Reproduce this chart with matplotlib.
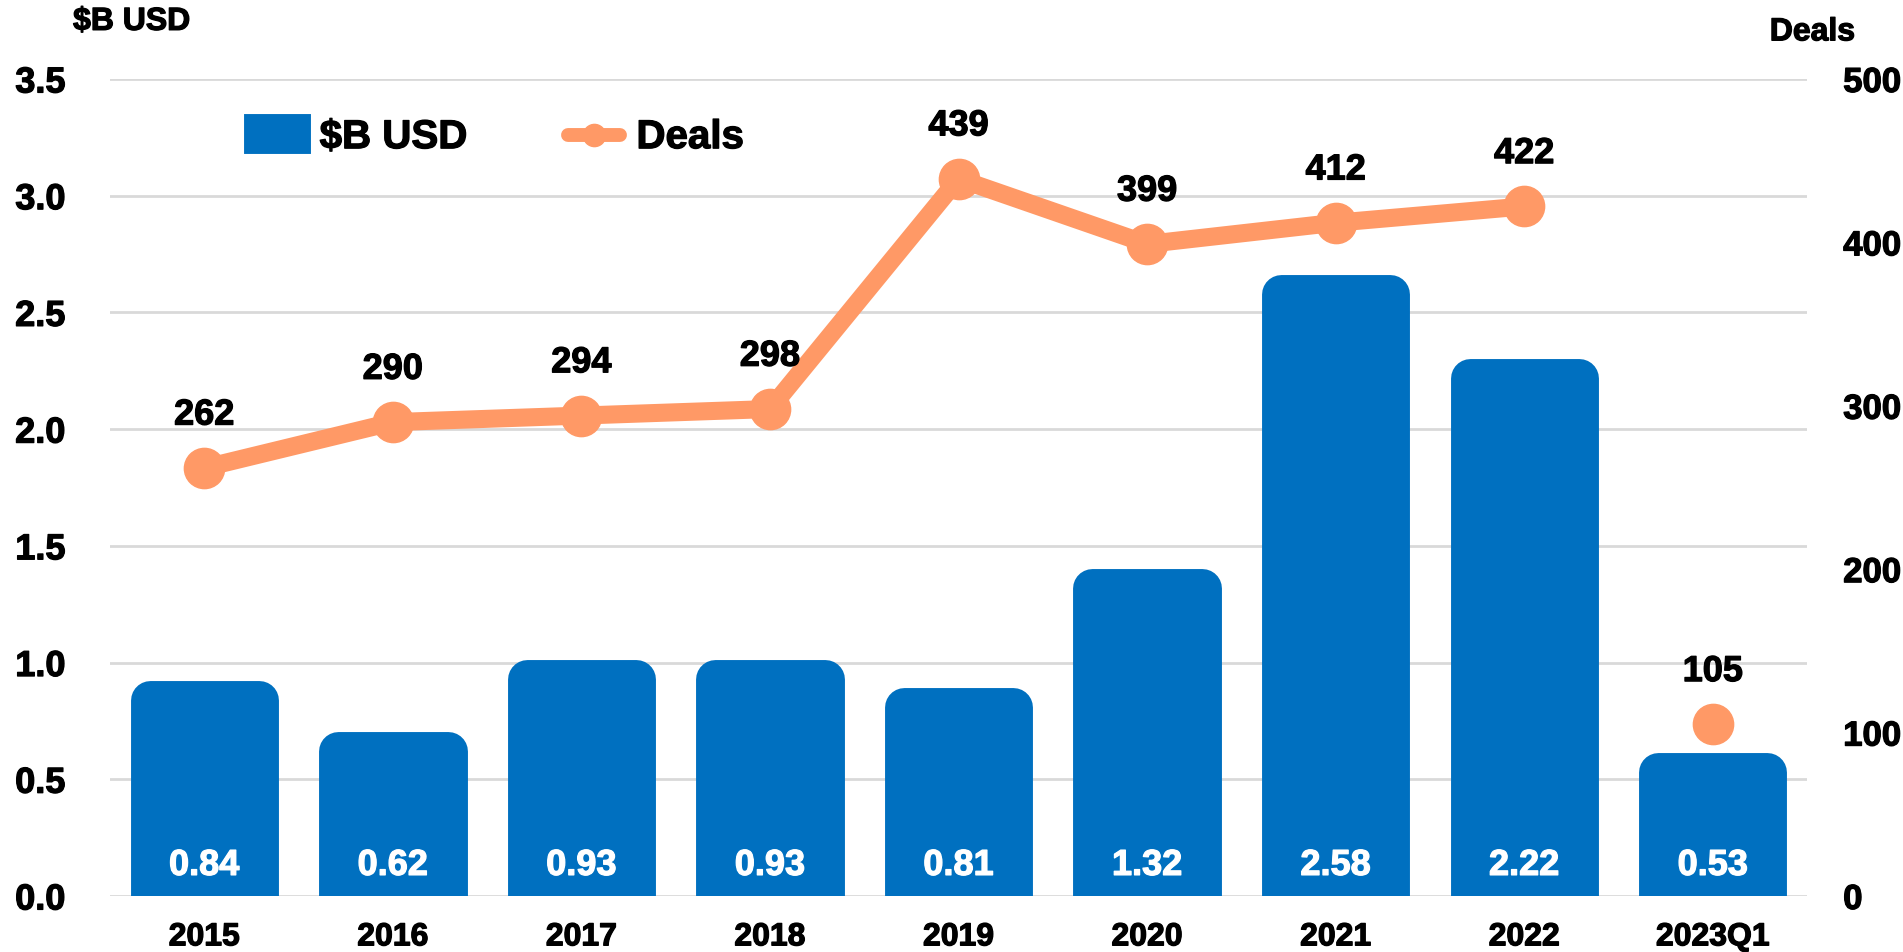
import matplotlib
matplotlib.use("Agg")
import matplotlib.pyplot as plt
from matplotlib.patches import Patch
from matplotlib.lines import Line2D
import matplotlib.patheffects as pe
import numpy as np

categories = ["2015", "2016", "2017", "2018", "2019", "2020", "2021", "2022", "2023Q1"]
usd_billion = [0.84, 0.62, 0.93, 0.93, 0.81, 1.32, 2.58, 2.22, 0.53]
deals = [262, 290, 294, 298, 439, 399, 412, 422, 105]
connected = 8  # first 8 points are joined by the line; 2023Q1 stands alone
left_ticks = [0.0, 0.5, 1.0, 1.5, 2.0, 2.5, 3.0, 3.5]
right_ticks = [0, 100, 200, 300, 400, 500]

BLUE = "#0070C0"
ORANGE = "#FF9966"
GRID = "#D9D9D9"

plt.rcParams['font.family'] = ['Liberation Sans', 'DejaVu Sans']
plt.rcParams['font.weight'] = 'bold'

thick_black = [pe.withStroke(linewidth=0.9, foreground='black')]
thick_white = [pe.withStroke(linewidth=0.9, foreground='white')]

fig = plt.figure(figsize=(19.03, 9.53), dpi=100)
ax = fig.add_axes([0.0578, 0.0588, 0.8918, 0.8573])
ax2 = ax.twinx()

x = np.arange(len(categories))

ax.bar(x, usd_billion, width=0.58, color=BLUE, edgecolor=BLUE,
       linewidth=28, joinstyle='round', zorder=2)
ax.set_xlim(-0.5, len(categories) - 0.5)
ax.set_ylim(0, 3.5)
ax.set_yticks(left_ticks)
ax.set_yticklabels([f"{t:.1f}" for t in left_ticks], fontsize=26, fontweight='bold')
ax.set_xticks(x)
ax.set_xticklabels(categories, fontsize=23, fontweight='bold')
ax.tick_params(axis='y', length=0, pad=32)
ax.tick_params(axis='x', length=0, pad=19)
for lab in ax.get_xticklabels() + ax.get_yticklabels():
    lab.set_path_effects(thick_black)
ax.grid(axis='y', color=GRID, linewidth=2, zorder=0)
ax.set_axisbelow(True)
for s in ax.spines.values():
    s.set_visible(False)

for xi, v in zip(x, usd_billion):
    ax.annotate(f"{v:.2f}", (xi, 0), xytext=(0, 22), textcoords='offset points',
                ha='center', va='center', color='white', fontsize=26, fontweight='bold',
                zorder=5, path_effects=thick_white)

ax2.plot(x[:connected], deals[:connected], color=ORANGE, linewidth=13,
         solid_capstyle='round', zorder=3)
ax2.plot(x, deals, linestyle='none', marker='o', markersize=29, color=ORANGE, zorder=4)
ax2.set_ylim(0, 500)
ax2.set_yticks(right_ticks)
ax2.set_yticklabels([str(t) for t in right_ticks], fontsize=25, fontweight='bold')
ax2.tick_params(axis='y', length=0, pad=26)
for lab in ax2.get_yticklabels():
    lab.set_path_effects(thick_black)
for s in ax2.spines.values():
    s.set_visible(False)

for xi, d in zip(x, deals):
    ax2.annotate(str(d), (xi, d), xytext=(0, 38), textcoords='offset points',
                 ha='center', va='center', color='black', fontsize=26, fontweight='bold',
                 path_effects=thick_black)

fig.text(0.0384, 0.976, "$B USD", ha='left', va='center', fontsize=23, fontweight='bold',
         path_effects=thick_black)
fig.text(0.9300, 0.965, "Deals", ha='left', va='center', fontsize=23, fontweight='bold',
         path_effects=thick_black)

h_bar = Patch(facecolor=BLUE, edgecolor=BLUE, linewidth=10, joinstyle='round')
h_line = Line2D([0], [0], color=ORANGE, linewidth=10, marker='o', markersize=16,
                solid_capstyle='round')
leg = fig.legend([h_bar, h_line], ["$B USD", "Deals"], loc='center left',
                 bbox_to_anchor=(0.1214, 0.855), ncol=2, frameon=False, borderpad=0,
                 prop={'size': 29, 'weight': 'bold'}, handlelength=1.3, handleheight=0.62,
                 handletextpad=0.4, columnspacing=2.5)
for t in leg.get_texts():
    t.set_path_effects(thick_black)

fig.savefig("out.png", dpi=100)
